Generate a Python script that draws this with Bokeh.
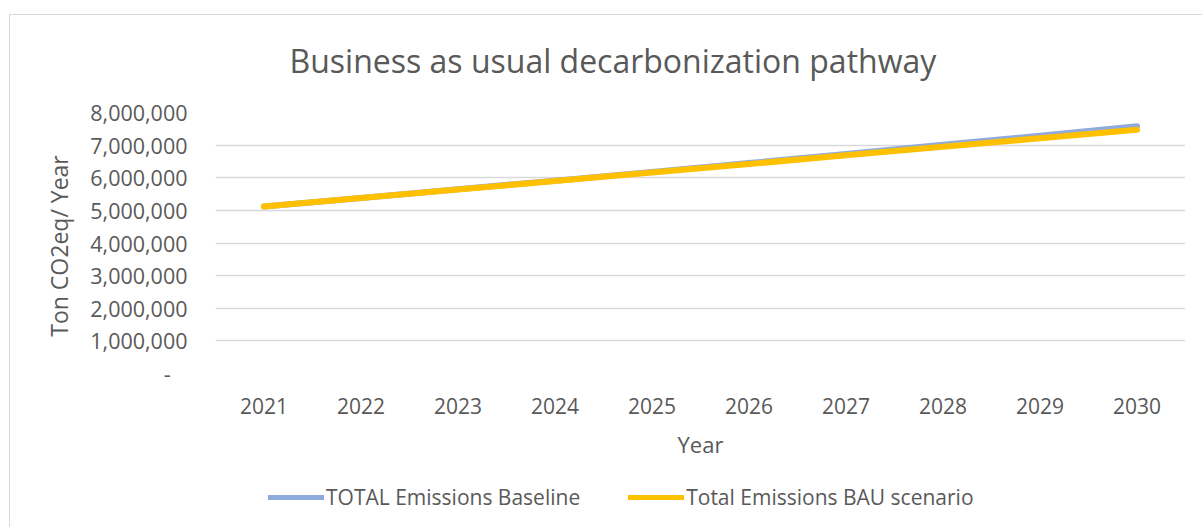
from bokeh.plotting import figure
from bokeh.layouts import column
from bokeh.models import Range1d, FixedTicker, CustomJSTickFormatter, Legend, LegendItem, Label
from bokeh.embed import file_html
from bokeh.resources import INLINE

# ---- data ----
years = ["2021", "2022", "2023", "2024", "2025", "2026", "2027", "2028", "2029", "2030"]
baseline = [5120000, 5380000, 5650000, 5910000, 6180000, 6450000, 6730000, 7010000, 7290000, 7580000]
bau = [5120000, 5380000, 5640000, 5900000, 6160000, 6420000, 6690000, 6950000, 7210000, 7470000]
y_ticks = [0, 1000000, 2000000, 3000000, 4000000, 5000000, 6000000, 7000000, 8000000]

title_text = "Business as usual decarbonization pathway"
x_label = "Year"
y_label = "Ton  CO2eq/ Year"
series_names = ["TOTAL Emissions Baseline", "Total Emissions BAU scenario"]
series_colors = ["#8faadc", "#ffc000"]

FONT = "Open Sans"
TXT = "#595959"


def strip(height):
    s = figure(width=1192, height=height, output_backend="svg", toolbar_location=None,
               x_range=Range1d(0, 1), y_range=Range1d(0, 1),
               x_axis_type=None, y_axis_type=None,
               min_border=0, min_border_left=0, min_border_right=0,
               min_border_top=0, min_border_bottom=0,
               outline_line_color=None, background_fill_color="white",
               border_fill_color="white")
    s.xgrid.grid_line_color = None
    s.ygrid.grid_line_color = None
    return s


# ---- title strip ----
ts = strip(80)
ts.add_layout(Label(x=74, y=35, x_units="screen", y_units="screen", text=title_text,
                    text_font=FONT, text_font_size="32px", text_color=TXT,
                    text_baseline="middle", text_align="left"))

# ---- main chart ----
p = figure(x_range=years, y_range=Range1d(0, 8000000),
           width=1192, height=380,
           output_backend="svg", toolbar_location=None,
           min_border_left=205, min_border_right=17,
           min_border_top=17, min_border_bottom=102,
           background_fill_color="white", border_fill_color="white",
           outline_line_color=None)

p.xgrid.grid_line_color = None
p.ygrid.grid_line_color = "#d9d9d9"
p.ygrid.grid_line_width = 1.5

p.yaxis.ticker = FixedTicker(ticks=y_ticks)
p.yaxis.formatter = CustomJSTickFormatter(
    code="return tick == 0 ? '-\\u00a0\\u00a0\\u00a0' : Math.round(tick).toLocaleString('en-US');")
for ax in (p.xaxis[0], p.yaxis[0]):
    ax.axis_line_color = None
    ax.major_tick_line_color = None
    ax.minor_tick_line_color = None
    ax.major_tick_out = 0
    ax.major_tick_in = 0
    ax.major_label_text_font = FONT
    ax.major_label_text_color = TXT
    ax.axis_label_text_font = FONT
    ax.axis_label_text_color = TXT
    ax.axis_label_text_font_style = "normal"

p.yaxis.major_label_text_font_size = "21.5px"
p.yaxis.major_label_standoff = 28
p.yaxis.axis_label = y_label
p.yaxis.axis_label_text_font_size = "23px"
p.yaxis.axis_label_standoff = 12

p.xaxis.major_label_text_font_size = "21px"
p.xaxis.major_label_standoff = 24
p.xaxis.axis_label = x_label
p.xaxis.axis_label_text_font_size = "22px"
p.xaxis.axis_label_standoff = 12

r1 = p.line(years, baseline, line_color=series_colors[0], line_width=6, line_cap="round", line_join="round")
r2 = p.line(years, bau, line_color=series_colors[1], line_width=6, line_cap="round", line_join="round")

# ---- legend strip (hidden copies of the series give the legend keys) ----
lg = figure(width=1192, height=52, output_backend="svg", toolbar_location=None,
            x_range=p.x_range, y_range=p.y_range,
            x_axis_type=None, y_axis_type=None,
            min_border=0, min_border_left=0, min_border_right=0,
            min_border_top=0, min_border_bottom=0,
            outline_line_color=None, background_fill_color="white",
            border_fill_color="white")
lg.xgrid.grid_line_color = None
lg.ygrid.grid_line_color = None
k1 = lg.line(years, baseline, line_color=series_colors[0], line_width=5, line_cap="round", visible=False)
k2 = lg.line(years, bau, line_color=series_colors[1], line_width=5, line_cap="round", visible=False)

legend = Legend(items=[LegendItem(label=series_names[0], renderers=[k1]),
                       LegendItem(label=series_names[1], renderers=[k2])],
                orientation="horizontal", location=(53, 16),
                glyph_width=56, glyph_height=20, label_standoff=2, spacing=48,
                padding=0, margin=0, border_line_color=None,
                background_fill_alpha=0,
                label_text_font=FONT, label_text_font_size="21px", label_text_color=TXT)
lg.add_layout(legend, "center")

layout = column(ts, p, lg, spacing=0)
layout.margin = (14, 0, 0, 9)
layout.styles = {"border-top": "1px solid #d9d9d9", "border-left": "1px solid #d9d9d9"}

open("out.html", "w").write(file_html(layout, INLINE))
